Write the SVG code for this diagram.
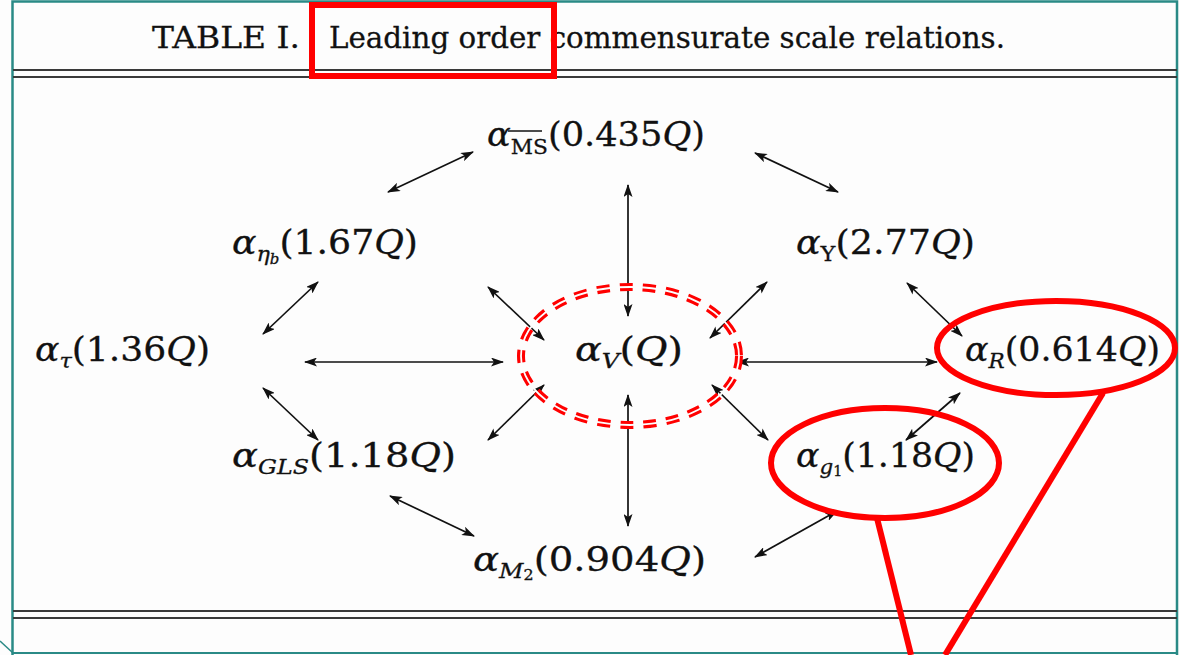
<svg xmlns="http://www.w3.org/2000/svg" width="1179" height="655" viewBox="0 0 1179 655">
<defs>
<marker id="ah" viewBox="0 0 13 9" refX="12" refY="4.5" markerWidth="13" markerHeight="9" markerUnits="userSpaceOnUse" orient="auto-start-reverse">
<path d="M0,0 L13,4.5 L0,9 L3,4.5 Z" fill="#111"/>
</marker>
<style>
.m{font-family:"DejaVu Serif","Liberation Serif",serif;font-size:34px;fill:#111;stroke:#111;stroke-width:0.3}
.i{font-style:italic}
.s{font-size:21px}
.ss{font-size:14px}
.t{font-family:"DejaVu Serif","Liberation Serif",serif;font-size:30px;fill:#111;stroke:#111;stroke-width:0.3}
.c line{stroke:#111;stroke-width:1.7;marker-start:url(#ah);marker-end:url(#ah)}
.rule{stroke:#3a3a3a;stroke-width:2.2}
.red{fill:none;stroke:#ff0000;stroke-width:6}
</style>
</defs>
<rect width="1179" height="655" fill="#fdfdfd"/>
<g id="frame" fill="none" stroke="#2a8a86" stroke-width="2.5">
<path d="M12.5,655 V1.5 H1177 V655"/>
<path d="M12,653 H1177" stroke-width="2"/>
<path d="M0,641 L13,653" stroke-width="1.5"/>
</g>
<g id="title">
<text class="t" y="48"><tspan x="152" textLength="148" lengthAdjust="spacingAndGlyphs">TABLE I.</tspan> <tspan x="329" textLength="676" lengthAdjust="spacingAndGlyphs">Leading order commensurate scale relations.</tspan></text>
<line class="rule" x1="13" y1="70" x2="1177" y2="70"/>
<line class="rule" x1="13" y1="77" x2="1177" y2="77"/>
<line class="rule" x1="13" y1="611" x2="1177" y2="611"/>
<line class="rule" x1="13" y1="618" x2="1177" y2="618"/>
</g>
<g id="node-ms">
<text class="m" x="487" y="146" textLength="218" lengthAdjust="spacingAndGlyphs"><tspan class="i">α</tspan><tspan class="s" dy="8">MS</tspan><tspan dy="-8">(0.435</tspan><tspan class="i">Q</tspan>)</text>
<line x1="508" y1="131" x2="542" y2="131" stroke="#111" stroke-width="1.4"/>
</g>
<g id="node-etab">
<text class="m" x="232" y="254" textLength="186" lengthAdjust="spacingAndGlyphs"><tspan class="i">α</tspan><tspan class="s i" dy="7">η</tspan><tspan class="ss i" dy="3">b</tspan><tspan dy="-10">(1.67</tspan><tspan class="i">Q</tspan>)</text>
</g>
<g id="node-upsilon">
<text class="m" x="796" y="254" textLength="179" lengthAdjust="spacingAndGlyphs"><tspan class="i">α</tspan><tspan class="s" dy="7">Υ</tspan><tspan dy="-7">(2.77</tspan><tspan class="i">Q</tspan>)</text>
</g>
<g id="node-tau">
<text class="m" x="35" y="361" textLength="175" lengthAdjust="spacingAndGlyphs"><tspan class="i">α</tspan><tspan class="s i" dy="7">τ</tspan><tspan dy="-7">(1.36</tspan><tspan class="i">Q</tspan>)</text>
</g>
<g id="node-v">
<text class="m" x="575" y="361" textLength="108" lengthAdjust="spacingAndGlyphs"><tspan class="i">α</tspan><tspan class="s i" dy="7">V</tspan><tspan dy="-7">(</tspan><tspan class="i">Q</tspan>)</text>
</g>
<g id="node-r">
<text class="m" x="965" y="361" textLength="195" lengthAdjust="spacingAndGlyphs"><tspan class="i">α</tspan><tspan class="s i" dy="7">R</tspan><tspan dy="-7">(0.614</tspan><tspan class="i">Q</tspan>)</text>
</g>
<g id="node-gls">
<text class="m" x="232" y="467" textLength="224" lengthAdjust="spacingAndGlyphs"><tspan class="i">α</tspan><tspan class="s i" dy="7">GLS</tspan><tspan dy="-7">(1.18</tspan><tspan class="i">Q</tspan>)</text>
</g>
<g id="node-g1">
<text class="m" x="796" y="467" textLength="179" lengthAdjust="spacingAndGlyphs"><tspan class="i">α</tspan><tspan class="s i" dy="7">g</tspan><tspan class="ss" dy="2">1</tspan><tspan dy="-9">(1.18</tspan><tspan class="i">Q</tspan>)</text>
</g>
<g id="node-m2">
<text class="m" x="473" y="571" textLength="233" lengthAdjust="spacingAndGlyphs"><tspan class="i">α</tspan><tspan class="s i" dy="7">M</tspan><tspan class="ss" dy="2">2</tspan><tspan dy="-9">(0.904</tspan><tspan class="i">Q</tspan>)</text>
</g>
<g id="connectors" class="c">
<line x1="388" y1="192" x2="473" y2="152"/>
<line x1="755" y1="153" x2="838" y2="192"/>
<line x1="628" y1="185" x2="628" y2="316"/>
<line x1="318" y1="282" x2="263" y2="334"/>
<line x1="488" y1="287" x2="544" y2="340"/>
<line x1="767" y1="282" x2="710" y2="338"/>
<line x1="907" y1="283" x2="962" y2="336"/>
<line x1="305" y1="362" x2="503" y2="362"/>
<line x1="737" y1="362" x2="937" y2="362"/>
<line x1="263" y1="388" x2="318" y2="440"/>
<line x1="544" y1="385" x2="488" y2="440"/>
<line x1="712" y1="385" x2="768" y2="440"/>
<line x1="960" y1="393" x2="906" y2="440"/>
<line x1="628" y1="395" x2="628" y2="526"/>
<line x1="390" y1="496" x2="474" y2="536"/>
<line x1="837" y1="511" x2="755" y2="557"/>
</g>
<g id="highlights">
<rect class="red" x="312" y="5" width="242" height="71"/>
<ellipse cx="630" cy="356" rx="109" ry="69" fill="none" stroke="#ff0000" stroke-width="8" stroke-dasharray="13 10"/>
<ellipse cx="630" cy="356" rx="109" ry="69" fill="none" stroke="#fdfdfd" stroke-width="1.8"/>
<ellipse class="red" cx="1056" cy="348" rx="119" ry="47"/>
<ellipse class="red" cx="885" cy="463" rx="114" ry="55"/>
<line class="red" x1="877" y1="518" x2="911" y2="655"/>
<line class="red" x1="1103" y1="393" x2="945" y2="655"/>
</g>
</svg>
